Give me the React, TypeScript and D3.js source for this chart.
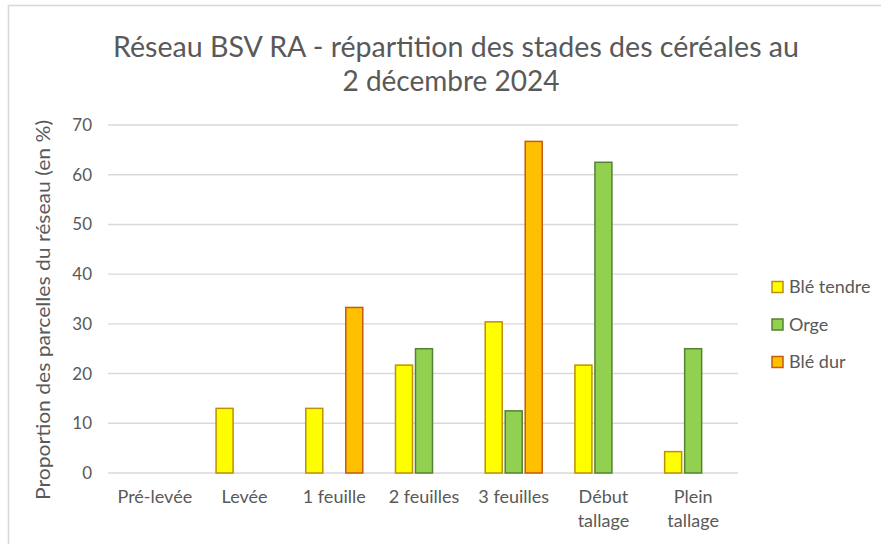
import * as d3 from 'd3'

const categories = ['Pré-levée', 'Levée', '1 feuille', '2 feuilles', '3 feuilles', 'Début tallage', 'Plein tallage']
const series = ['Blé tendre', 'Orge', 'Blé dur']
const bleTendre = [0, 13.0, 13.0, 21.7, 30.4, 21.7, 4.3]
const orge = [0, 0, 0, 25.0, 12.5, 62.5, 25.0]
const bleDur = [0, 0, 33.3, 0, 66.7, 0, 0]
const yTicks = [0, 10, 20, 30, 40, 50, 60, 70]

const fills = ['#FFFF00', '#92D050', '#FFC000']
const strokes = ['#BF9000', '#548235', '#C55A11']
const txt = '#595959'
const font = 'Lato, "Open Sans", sans-serif'

const App = () => {
	const values = [bleTendre, orge, bleDur]

	const x = d3.scaleBand().domain(categories).range([110, 738])
	const xs = d3.scaleBand().domain(series).range([-28.5, 28.5]).paddingInner(0.15)
	const y = d3.scaleLinear().domain([0, 70]).range([473, 125])

	// Début / Plein tallage go on two lines
	const labelLines = (c) => {
		const parts = c.split(' ')
		if (c.startsWith('Début') || c.startsWith('Plein')) return parts
		return [c]
	}

	return (
		<svg width={881} height={544} style={{position: 'absolute', left: 0, top: 0, background: '#fff'}}>
			<rect x={8.5} y={5.5} width={900} height={600} fill='white' stroke='#d9d9d9' strokeWidth={1.6}/>

			{/* title */}
			<text x={456} y={57} textAnchor='middle' fontFamily={font} fontSize={28} fill={txt}
				textLength={686} lengthAdjust='spacingAndGlyphs'>
				Réseau BSV RA - répartition des stades des céréales au
			</text>
			<text x={451} y={91} textAnchor='middle' fontFamily={font} fontSize={28} fill={txt}
				textLength={217} lengthAdjust='spacingAndGlyphs'>
				2 décembre 2024
			</text>

			{/* gridlines + y labels */}
			{yTicks.map(t => (
				<g key={t}>
					<line x1={108} x2={738} y1={y(t)} y2={y(t)} stroke='#d9d9d9' strokeWidth={1.4}/>
					<text x={92} y={y(t)} dy='0.35em' textAnchor='end' fontFamily={font} fontSize={17} fill={txt}>{t}</text>
				</g>
			))}

			<text transform={`translate(50,310) rotate(-90)`} textAnchor='middle' fontFamily={font} fontSize={19.5} fill={txt}
				textLength={380} lengthAdjust='spacingAndGlyphs'>
				Proportion des parcelles du réseau (en %)
			</text>

			{/* bars */}
			{series.map((s, si) => (
				<g key={s}>
					{categories.map((c, ci) => {
						const v = values[si][ci]
						if (!v) return null
						const bx = x(c) + x.bandwidth() / 2 + xs(s)
						return (
							<rect key={c} x={bx} y={y(v)} width={xs.bandwidth()} height={y(0) - y(v)}
								fill={fills[si]} stroke={strokes[si]} strokeWidth={1.5}/>
						)
					})}
				</g>
			))}

			{/* x labels */}
			{categories.map(c => (
				<text key={c} x={x(c) + x.bandwidth() / 2} y={503} textAnchor='middle' fontFamily={font} fontSize={18} fill={txt}>
					{labelLines(c).map((l, i) => (
						<tspan key={i} x={x(c) + x.bandwidth() / 2} dy={i ? 24 : 0}>{l}</tspan>
					))}
				</text>
			))}

			{/* legend */}
			{series.map((s, i) => (
				<g key={s} transform={`translate(772,${287 + i * 37.5})`}>
					<rect x={0} y={-5.5} width={11} height={11} fill={fills[i]} stroke={strokes[i]} strokeWidth={1.5}/>
					<text x={17} y={0} dy='0.35em' fontFamily={font} fontSize={18} fill={txt}>{s}</text>
				</g>
			))}
		</svg>
	)
}

export default App
